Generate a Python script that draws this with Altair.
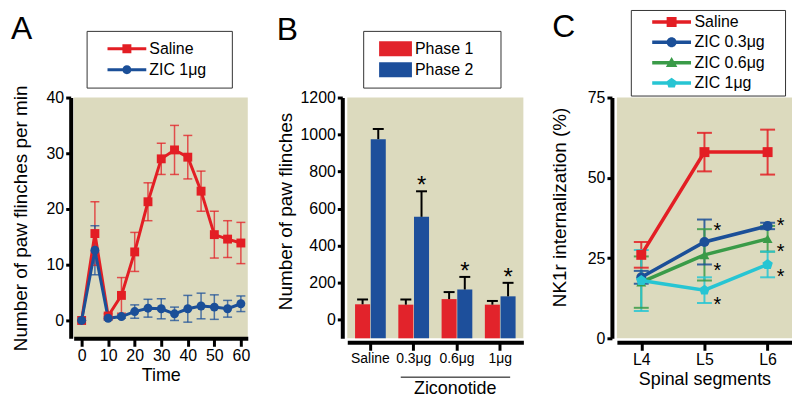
import altair as alt
import pandas as pd

# ---------------- Panel A: time course ----------------
time_min = [0, 5, 10, 15, 20, 25, 30, 35, 40, 45, 50, 55, 60]
saline_a = [0, 15.6, 0.8, 4.5, 12.3, 21.3, 29.0, 30.6, 29.3, 23.2, 15.4, 14.6, 13.9]
saline_a_err = [0, 5.7, 0.4, 3.2, 3.5, 3.4, 2.8, 4.4, 3.9, 3.6, 4.2, 3.3, 3.7]
zic_a = [0, 12.6, 0.4, 0.7, 1.6, 2.2, 2.1, 1.2, 2.1, 2.6, 2.4, 2.1, 3.0]
zic_a_err = [0, 4.4, 0.3, 0.3, 1.2, 1.6, 1.8, 1.2, 2.4, 2.3, 2.2, 1.5, 1.4]
series_a = ["Saline", "ZIC 1μg"]

# ---------------- Panel B: bars ----------------
doses = ["Saline", "0.3μg", "0.6μg", "1μg"]
phases = ["Phase 1", "Phase 2"]
phase1 = [82, 80, 110, 80]
phase1_err = [26, 28, 38, 20]
phase2 = [975, 555, 162, 125]
phase2_err = [55, 138, 68, 73]
phase2_star = ["", "*", "*", "*"]

# ---------------- Panel C: NK1r ----------------
segments = ["L4", "L5", "L6"]
series_c = ["Saline", "ZIC 0.3μg", "ZIC 0.6μg", "ZIC 1μg"]
saline_c = [26, 58, 58]
saline_c_err = [4, 6, 7]
zic03_c = [19, 30, 35]
zic03_c_err = [2, 7, 1]
zic06_c = [17.5, 26, 31]
zic06_c_err = [8, 8, 4]
zic1_c = [18, 15, 23]
zic1_c_err = [9.5, 4, 4]
star_c_seg = ["L5", "L5", "L5", "L6", "L6", "L6"]
star_c_y = [35, 22.5, 12, 36.5, 28.3, 20.5]

FONT = "Liberation Sans"
BG = "#DCDABE"
RED = "#E31E24"
BLUE = "#1B4F98"
GREEN = "#3A9B48"
CYAN = "#27C5D3"
BAR_RED = "#E2232B"
BAR_BLUE = "#1D4F9B"


def make_legend(x, y, pad, ssize, soff, loff, rowpad, spacer, stype=None):
    # an invisible title on the right widens the box on that side
    kw = dict(title="MM", titleOrient="right", titleColor="transparent", titleFontSize=spacer,
              titlePadding=0, orient="none", legendX=x, legendY=y, padding=pad,
              strokeColor="#333333", symbolSize=ssize, symbolOffset=soff,
              symbolStrokeWidth=0, labelOffset=loff, rowPadding=rowpad,
              labelFontSize=16, labelFont=FONT, labelColor="black")
    if stype is not None:
        kw["symbolType"] = stype
    return alt.Legend(**kw)


def letter(ch, x, y):
    return alt.Chart(pd.DataFrame({"letter": [ch]})).mark_text(
        fontSize=32, align="left", baseline="alphabetic", font=FONT, color="black"
    ).encode(text="letter:N", x=alt.value(x), y=alt.value(y))


VIEW = alt.ViewBackground(fill=BG, strokeWidth=0)

# ===== Panel A =====
rows = []
for name, mean, err in [("Saline", saline_a, saline_a_err), ("ZIC 1μg", zic_a, zic_a_err)]:
    for t, m, e in zip(time_min, mean, err):
        rows.append({"series": name, "t": t, "m": m, "lo": m - e, "hi": m + e})
dfA = pd.DataFrame(rows)

colA = alt.Color("series:N", scale=alt.Scale(domain=series_a, range=[RED, BLUE]), legend=None)
xA = alt.X("t:Q", scale=alt.Scale(domain=[-3, 62.6], nice=False, zero=False),
           axis=alt.Axis(values=[0, 10, 20, 30, 40, 50, 60], title="Time", format="d"))


def yA(field):
    return alt.Y(field + ":Q", scale=alt.Scale(domain=[-3.2, 40], nice=False, zero=False),
                 axis=alt.Axis(values=[0, 10, 20, 30, 40], title="Number of paw flinches per min",
                               offset=3, titlePadding=16, format="d"))


baseA = alt.Chart(dfA)
errA = baseA.mark_rule(strokeWidth=1.5, opacity=0.75).encode(x=xA, y=yA("lo"), y2="hi:Q", color=colA)
capLoA = baseA.mark_tick(orient="horizontal", size=9, thickness=1.5, opacity=0.75).encode(x=xA, y=yA("lo"), color=colA)
capHiA = baseA.mark_tick(orient="horizontal", size=9, thickness=1.5, opacity=0.75).encode(x=xA, y=yA("hi"), color=colA)
lineA = baseA.mark_line(strokeWidth=3).encode(x=xA, y=yA("m"), color=colA)
ptsA = baseA.mark_point(filled=True, size=80, opacity=1).encode(
    x=xA, y=yA("m"), color=colA,
    shape=alt.Shape("series:N", scale=alt.Scale(domain=series_a, range=["square", "circle"]), legend=None))

pA_sq = "M-4.33,-0.33H4.33V0.33H-4.33Z M-1,-1H1V1H-1Z"
pA_ci = "M-4.33,-0.33H4.33V0.33H-4.33Z M-1,0A1,1 0 1,1 1,0A1,1 0 1,1 -1,0Z"
legA = make_legend(13, -67, 10, 81, 22.5, 14.5, 5, 9.5)
legLayerA = baseA.mark_point(filled=True, opacity=1).transform_filter("false").encode(
    color=alt.Color("series:N", scale=alt.Scale(domain=series_a, range=[RED, BLUE]), legend=legA),
    shape=alt.Shape("series:N", scale=alt.Scale(domain=series_a, range=[pA_sq, pA_ci]), legend=legA))

panelA = alt.layer(errA, capLoA, capHiA, lineA, ptsA, legLayerA, letter("A", -63, -59)).resolve_scale(
    color="independent", shape="independent").properties(width=175, height=242, view=VIEW)

# ===== Panel B =====
rows = []
for i, d in enumerate(doses):
    rows.append({"dose": d, "phase": "Phase 1", "m": phase1[i], "hi": phase1[i] + phase1_err[i], "star": ""})
    rows.append({"dose": d, "phase": "Phase 2", "m": phase2[i], "hi": phase2[i] + phase2_err[i], "star": phase2_star[i]})
dfB = pd.DataFrame(rows)

xB = alt.X("dose:N", scale=alt.Scale(domain=doses, paddingInner=0.29, paddingOuter=0.18),
           axis=alt.Axis(labelAngle=0, title="Ziconotide", labelFontSize=14, titleX=108,
                         titlePadding=14, offset=4))
xoB = alt.XOffset("phase:N", scale=alt.Scale(domain=phases, paddingInner=0.04))


def yB(field):
    return alt.Y(field + ":Q", scale=alt.Scale(domain=[-102, 1200], nice=False, zero=False),
                 axis=alt.Axis(values=[0, 200, 400, 600, 800, 1000, 1200], title="Number of paw flinches",
                               offset=5, titlePadding=4, titleY=114, format="d"))


pB_rect = "M-2.2,-1H2.2V1H-2.2Z"
legB = make_legend(16, -67, 10, 225, 14.5, 11.5, 5, 10, stype=pB_rect)
baseB = alt.Chart(dfB)
barsB = baseB.mark_bar().encode(
    x=xB, xOffset=xoB, y=yB("m"), y2=alt.Y2(datum=-102),
    color=alt.Color("phase:N", scale=alt.Scale(domain=phases, range=[BAR_RED, BAR_BLUE]), legend=legB))
errB = baseB.mark_rule(color="black", strokeWidth=2).encode(x=xB, xOffset=xoB, y=yB("m"), y2="hi:Q")
capB = baseB.mark_tick(orient="horizontal", color="black", size=11, thickness=2, opacity=1).encode(
    x=xB, xOffset=xoB, y=yB("hi"))
starB = baseB.mark_text(fontSize=24, dy=2, baseline="alphabetic", color="black", font=FONT).transform_filter(
    "datum.star != ''").encode(x=xB, xOffset=xoB, y=yB("hi"), text="star:N")
zicLine = alt.Chart(pd.DataFrame({"a": [0]})).mark_rule(color="black", strokeWidth=1, xOffset=-13, x2Offset=10).encode(
    x=alt.X(datum="0.3μg", type="nominal"), x2=alt.X2(datum="1μg"), y=alt.Y(datum=-312, type="quantitative"))

panelB = alt.layer(barsB, errB, capB, starB, zicLine, letter("B", -71, -58)).properties(
    width=177, height=242, view=VIEW)

# ===== Panel C =====
rows = []
for name, mean, err in [("Saline", saline_c, saline_c_err), ("ZIC 0.3μg", zic03_c, zic03_c_err),
                        ("ZIC 0.6μg", zic06_c, zic06_c_err), ("ZIC 1μg", zic1_c, zic1_c_err)]:
    for s, m, e in zip(segments, mean, err):
        rows.append({"series": name, "seg": s, "m": m, "lo": m - e, "hi": m + e})
dfC = pd.DataFrame(rows)

colC = alt.Color("series:N", scale=alt.Scale(domain=series_c, range=[RED, BLUE, GREEN, CYAN]), legend=None)
xC = alt.X("seg:O", scale=alt.Scale(type="point", domain=segments, padding=0.386),
           axis=alt.Axis(labelAngle=0, title="Spinal segments", offset=4))


def yC(field):
    return alt.Y(field + ":Q", scale=alt.Scale(domain=[0, 75], nice=False, zero=False),
                 axis=alt.Axis(values=[0, 25, 50, 75], title="NK1r internalization (%)",
                               offset=5, titlePadding=18, titleY=110, format="d"))


pent = "M0,-1.1L1.05,-0.34L0.65,0.89H-0.65L-1.05,-0.34Z"
baseC = alt.Chart(dfC)
errC = baseC.mark_rule(strokeWidth=2, opacity=0.85).encode(x=xC, y=yC("lo"), y2="hi:Q", color=colC)
capLoC = baseC.mark_tick(orient="horizontal", size=15, thickness=2, opacity=0.85).encode(x=xC, y=yC("lo"), color=colC)
capHiC = baseC.mark_tick(orient="horizontal", size=15, thickness=2, opacity=0.85).encode(x=xC, y=yC("hi"), color=colC)
lineC = baseC.mark_line(strokeWidth=3.5).encode(x=xC, y=yC("m"), color=colC)
ptsC = baseC.mark_point(filled=True, size=100, opacity=1).encode(
    x=xC, y=yC("m"), color=colC,
    shape=alt.Shape("series:N", scale=alt.Scale(domain=series_c, range=["square", "circle", "triangle-up", pent]),
                    legend=None))

lineC_leg = "M-3.9,-0.35H3.9V0.35H-3.9Z "
pC = [lineC_leg + "M-1,-1H1V1H-1Z",
      lineC_leg + "M-1,0A1,1 0 1,1 1,0A1,1 0 1,1 -1,0Z",
      lineC_leg + "M0,-1.15L1.15,0.85H-1.15Z",
      lineC_leg + pent]
legC = make_legend(14, -88, 4, 100, 29, 15, 4.5, 9.2)
legLayerC = baseC.mark_point(filled=True, opacity=1).transform_filter("false").encode(
    color=alt.Color("series:N", scale=alt.Scale(domain=series_c, range=[RED, BLUE, GREEN, CYAN]), legend=legC),
    shape=alt.Shape("series:N", scale=alt.Scale(domain=series_c, range=pC), legend=legC))

starC = alt.Chart(pd.DataFrame({"seg": star_c_seg, "y": star_c_y, "s": ["*"] * len(star_c_y)})).mark_text(
    fontSize=20, dx=13, dy=11, baseline="alphabetic", color="black", font=FONT).encode(
    x=xC, y=yC("y"), text="s:N")

panelC = alt.layer(errC, capLoC, capHiC, lineC, ptsC, starC, legLayerC, letter("C", -65, -61)).resolve_scale(
    color="independent", shape="independent").properties(width=176, height=242, view=VIEW)

chart = alt.hconcat(panelA, panelB, panelC, spacing=27).resolve_scale(
    color="independent", shape="independent", x="independent", y="independent"
).resolve_legend(color="independent", shape="independent").properties(
    padding={"left": 3, "top": 0, "right": 0, "bottom": 0}
).configure(font=FONT).configure_view(fill=BG, stroke=None).configure_axis(
    domainColor="black", domainWidth=4, tickColor="black", tickWidth=3, grid=False,
    labelColor="black", titleColor="black", labelFont=FONT, titleFont=FONT, titleFontWeight="normal"
).configure_axisX(tickSize=8, labelPadding=1, titlePadding=3, labelFontSize=16, titleFontSize=18
).configure_axisY(tickSize=5, labelPadding=2, labelFontSize=16, titleFontSize=19)

chart.save("out.html", embed_options={"renderer": "svg", "actions": False})
